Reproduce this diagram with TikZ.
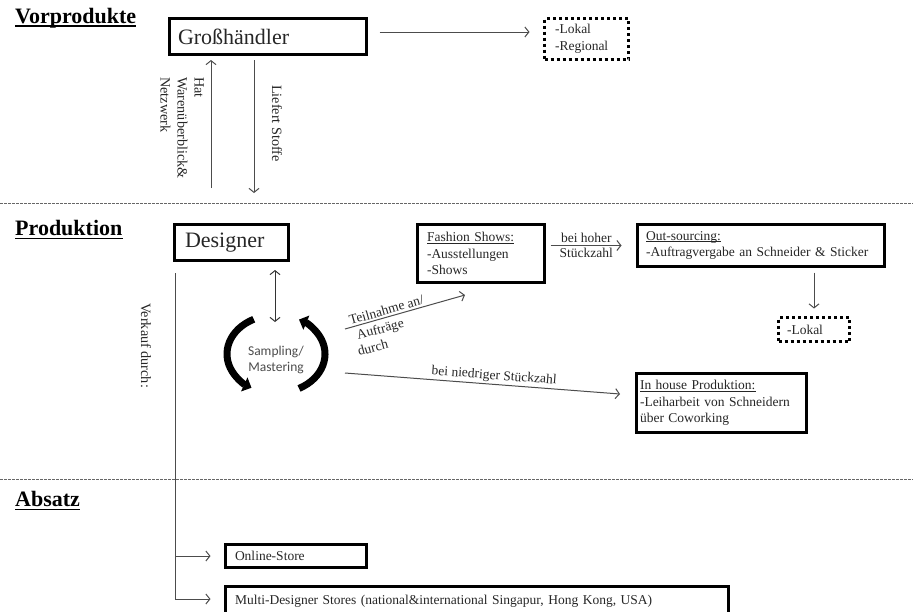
\documentclass[tikz,border=0pt]{standalone}
\usepackage{fontspec}
\setmainfont{Liberation Serif}
\newfontfamily\carlito{Carlito}
\usetikzlibrary{arrows.meta,calc}
\newcommand\smallfs{\fontsize{13.5}{16.5}\selectfont}
\newcommand\rotfs{\fontsize{14.2}{17}\selectfont}
\newcommand\bigfs{\fontsize{22}{26}\selectfont}
\newcommand\headfs{\fontsize{22}{25}\selectfont\bfseries}
\newcommand\ulx[1]{\setbox0=\hbox{#1}\rlap{\rule[-1.8pt]{\wd0}{0.7pt}}\box0}
\tikzset{
  box/.style={draw=black, line width=3pt, anchor=north west, align=left,
    inner ysep=0pt, outer sep=0pt, text=black!85, font=\smallfs},
  dotbox/.style={box, dash pattern=on 3pt off 3pt},
  arr/.style={draw=black!70, line width=1pt, -{Straight Barb[length=4pt,width=10pt]}},
  darr/.style={draw=black!80, line width=1pt, {Straight Barb[length=4pt,width=10pt]}-{Straight Barb[length=4pt,width=10pt]}},
  lbl/.style={inner sep=0pt, text=black!85, font=\smallfs},
  rot/.style={lbl, rotate=-90, align=left, font=\rotfs},
  heading/.style={inner sep=0pt, anchor=base west, font=\headfs, text=black},
  headline/.style={line width=1.8pt, black},
  sep/.style={draw=black!60, line width=0.9pt, dash pattern=on 2.5pt off 1.5pt},
  circarr/.style={line width=7pt, black, -{Triangle[length=8pt,width=15pt]}},
}
\begin{document}
\begin{tikzpicture}[x=1pt,y=-1pt]
\useasboundingbox (0,0) rectangle (913,611);

% separators
\draw[sep] (0,203) -- (913,203);
\draw[sep] (0,479) -- (913,479);

% headings
\node[heading] (vor) at (15,23) {Vorprodukte};
\draw[headline] ([yshift=-3pt]vor.base west) -- ([yshift=-3pt]vor.base east);
\node[heading] (prod) at (15,235) {Produktion};
\draw[headline] ([yshift=-3.5pt]prod.base west) -- ([yshift=-3.5pt]prod.base east);
\node[heading] (abs) at (15,506) {Absatz};
\draw[headline] ([yshift=-3.5pt]abs.base west) -- ([yshift=-3.5pt]abs.base east);

% boxes
\node[box, font=\bigfs, text width=180pt, inner xsep=8.5pt, minimum height=36pt] (gross) at (169.5,18.5) {Großhändler};
\node[dotbox, text width=63pt, inner xsep=10.5pt, minimum height=41pt] (dot1) at (544.5,18.5) {-Lokal\\-Regional};
\node[box, font=\bigfs, text width=93pt, inner xsep=10.5pt, minimum height=36pt] (designer) at (174.5,224.5) {Designer};
\node[box, text width=108pt, inner xsep=9.5pt, minimum height=58pt] (fashion) at (417.5,224.5) {\ulx{Fashion Shows:}\\-Ausstellungen\\-Shows};
\node[box, text width=230pt, inner xsep=8.5pt, minimum height=42pt] (out) at (637.5,224.5) {\ulx{Out-sourcing:}\\-Auftragvergabe an Schneider \& Sticker};
\node[dotbox, text width=54pt, inner xsep=8.5pt, minimum height=24pt] (dot2) at (778.5,317.5) {-Lokal};
\node[box, text width=163pt, inner xsep=3.5pt, minimum height=59pt] (inhouse) at (636.5,373.5) {\ulx{In house Produktion:}\\-Leiharbeit von Schneidern\\über Coworking};
\node[box, text width=122pt, inner xsep=9.5pt, minimum height=23pt] (online) at (225.5,544.5) {Online-Store};
\node[box, text width=484pt, inner xsep=9.5pt, minimum height=29pt] (multi) at (225.5,586.5) {Multi-Designer Stores (national\&international Singapur, Hong Kong, USA)};

% sampling / mastering
\node[inner sep=0pt, align=center, font=\carlito\fontsize{13.5}{16}\selectfont, text=black!70] (sampling) at (276,360) {Sampling/\\Mastering};
\coordinate (c) at (276,354);
\draw[circarr] ($(c)+(117:49pt and 39pt)$) arc[start angle=117, end angle=240, x radius=49pt, y radius=39pt];
\draw[circarr] ($(c)+(-62:49pt and 39pt)$) arc[start angle=-62, end angle=62, x radius=49pt, y radius=39pt];

% rotated labels
\node[rot, anchor=north west] (hat) at (204,77) {Hat\\Warenüberblick\&\\Netzwerk};
\node[rot, anchor=west] (liefert) at (277,85) {Liefert Stoffe};
\node[rot, anchor=west] (verkauf) at (146,303) {Verkauf durch:};

% connectors Vorprodukte
\coordinate (g1) at ([xshift=13pt,yshift=4.5pt]gross.east);
\draw[arr, shorten >=15pt] (g1) -- (g1 -| dot1.west);
\coordinate (upS) at (211,188);
\draw[arr, shorten >=5.5pt] (upS) -- (upS |- gross.south);
\coordinate (dnE) at (254,193);
\draw[arr, shorten <=5.5pt] (dnE |- gross.south) -- (dnE);

% connectors Produktion
\coordinate (dsA) at (275,270);
\coordinate (dsB) at (275,322);
\draw[darr] (dsA) -- (dsB);
\draw[arr, shorten <=6pt, shorten >=16pt] (fashion.east |- out.west) -- (out.west)
  node[lbl, pos=0.45, above=2.5pt] {bei hoher}
  node[lbl, pos=0.45, below=2.5pt] {Stückzahl};
\draw[arr, shorten <=6pt, shorten >=9pt] (dot2.north |- out.south) -- (dot2.north);
\coordinate (t1) at (345,329);
\coordinate (t2) at (465,295);
\draw[arr] (t1) -- (t2)
  node[lbl, sloped, pos=0.36, above=2pt] {Teilnahme an/};
\node[lbl, rotate=15, anchor=base west] (auf) at (358,339.5) {Aufträge};
\node[lbl, rotate=15, anchor=base west] (durch) at (359,356) {durch};
\coordinate (n1) at (345,373);
\coordinate (n2) at (620,394);
\draw[arr] (n1) -- (n2)
  node[lbl, sloped, pos=0.54, above=1.5pt] {bei niedriger Stückzahl};

% connectors Absatz
\coordinate (vtop) at (175,273);
\draw[arr, shorten >=15pt] (vtop) |- (online.west);
\draw[arr, shorten >=15pt] (vtop) |- ([yshift=2pt]multi.west);
\end{tikzpicture}
\end{document}
